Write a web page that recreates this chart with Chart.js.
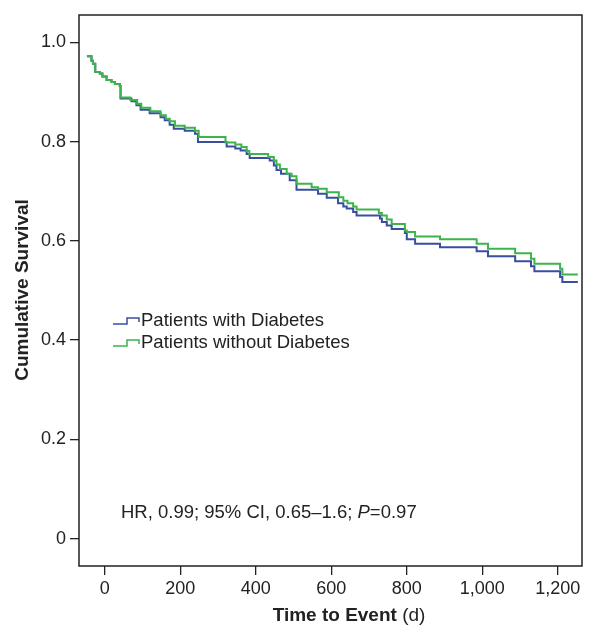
<!DOCTYPE html>
<html>
<head>
<meta charset="utf-8">
<script src="https://cdn.jsdelivr.net/npm/chart.js@4"></script>
<style>
  html, body { margin: 0; padding: 0; background: #fff; }
  #wrap { width: 596px; height: 627px; position: relative; }
</style>
</head>
<body>
<div id="wrap"><canvas id="kmChart"></canvas></div>
<script>
// Kaplan-Meier steps: day of each drop and survival after it
const diabetesDays = [-47, -35, -31, -25, -13, -6, 5, 18, 27, 40, 42, 71, 84, 95, 119, 148, 159, 172, 183, 212, 239, 247, 323, 346, 360, 376, 384, 437, 448, 455, 467, 490, 508, 565, 588, 618, 632, 641, 658, 667, 729, 734, 747, 760, 795, 800, 822, 888, 985, 1015, 1087, 1129, 1138, 1206, 1212, 1253];
const diabetesSurv = [0.972, 0.963, 0.957, 0.940, 0.937, 0.931, 0.924, 0.920, 0.916, 0.912, 0.887, 0.881, 0.873, 0.864, 0.857, 0.849, 0.843, 0.834, 0.826, 0.822, 0.816, 0.799, 0.790, 0.786, 0.782, 0.775, 0.767, 0.762, 0.752, 0.743, 0.735, 0.722, 0.703, 0.695, 0.687, 0.676, 0.669, 0.665, 0.658, 0.651, 0.645, 0.638, 0.631, 0.624, 0.616, 0.603, 0.594, 0.587, 0.579, 0.569, 0.559, 0.549, 0.539, 0.527, 0.517, 0.517];

const noDiabetesDays = [-47, -35, -31, -25, -13, -6, 5, 18, 27, 40, 42, 68, 86, 97, 121, 148, 162, 172, 186, 212, 239, 249, 320, 346, 362, 376, 383, 433, 448, 455, 464, 482, 495, 508, 548, 565, 588, 620, 632, 643, 658, 667, 726, 734, 747, 760, 795, 800, 822, 888, 985, 1015, 1087, 1129, 1138, 1206, 1212, 1253];
const noDiabetesSurv = [0.972, 0.963, 0.957, 0.940, 0.937, 0.931, 0.924, 0.920, 0.916, 0.912, 0.889, 0.884, 0.876, 0.868, 0.861, 0.853, 0.846, 0.841, 0.832, 0.828, 0.822, 0.809, 0.798, 0.794, 0.789, 0.781, 0.775, 0.769, 0.762, 0.754, 0.745, 0.735, 0.730, 0.715, 0.708, 0.705, 0.698, 0.688, 0.681, 0.676, 0.669, 0.663, 0.656, 0.651, 0.643, 0.634, 0.621, 0.618, 0.609, 0.603, 0.594, 0.584, 0.575, 0.564, 0.554, 0.544, 0.532, 0.532];

const xTicks = [0, 200, 400, 600, 800, 1000, 1200];
const yTicks = [0, 0.2, 0.4, 0.6, 0.8, 1.0];

const seriesNames = ["Patients with Diabetes", "Patients without Diabetes"];
const seriesColors = ["#3a4ea0", "#3cb44b"];

const FONT = "'Liberation Sans', Arial, sans-serif";
const INK = "#222";

const toPoints = (days, surv) => days.map((d, i) => ({ x: d, y: surv[i] }));

// frame, legend, annotation and axis titles
const decor = {
  id: "decor",
  afterDraw(chart) {
    const ctx = chart.ctx;
    const a = chart.chartArea;
    ctx.save();
    ctx.strokeStyle = INK;
    ctx.lineWidth = 1.5;
    ctx.strokeRect(a.left, a.top, a.right - a.left, a.bottom - a.top);

    // legend
    ctx.font = "18.5px " + FONT;
    ctx.textBaseline = "middle";
    ctx.textAlign = "left";
    const legY = [321, 343];
    seriesNames.forEach((name, i) => {
      const y = legY[i];
      ctx.strokeStyle = seriesColors[i];
      ctx.lineWidth = 1.5;
      ctx.beginPath();
      ctx.moveTo(113, y + 3);
      ctx.lineTo(127, y + 3);
      ctx.lineTo(127, y - 3);
      ctx.lineTo(139, y - 3);
      ctx.lineTo(139, y + 1);
      ctx.stroke();
      ctx.fillStyle = INK;
      ctx.fillText(name, 141, y);
    });

    // HR annotation with italic P
    let x = 121;
    const hrY = 513;
    const parts = [
      ["HR, 0.99; 95% CI, 0.65\u20131.6; ", "18.5px " + FONT],
      ["P", "italic 18.5px " + FONT],
      ["=0.97", "18.5px " + FONT]
    ];
    parts.forEach(([t, f]) => {
      ctx.font = f;
      ctx.fillText(t, x, hrY);
      x += ctx.measureText(t).width;
    });

    // x title
    const t1 = "Time to Event", t2 = " (d)";
    ctx.font = "bold 19px " + FONT;
    const w1 = ctx.measureText(t1).width;
    ctx.font = "19px " + FONT;
    const w2 = ctx.measureText(t2).width;
    const tx = 349 - (w1 + w2) / 2;
    ctx.font = "bold 19px " + FONT;
    ctx.fillText(t1, tx, 616);
    ctx.font = "19px " + FONT;
    ctx.fillText(t2, tx + w1, 616);

    // y title
    ctx.translate(23, 290);
    ctx.rotate(-Math.PI / 2);
    ctx.textAlign = "center";
    ctx.font = "bold 19px " + FONT;
    ctx.fillText("Cumulative Survival", 0, 0);
    ctx.restore();
  }
};

new Chart(document.getElementById("kmChart"), {
  type: "line",
  data: {
    datasets: [
      {
        label: seriesNames[0],
        data: toPoints(diabetesDays, diabetesSurv),
        borderColor: seriesColors[0],
        borderWidth: 2,
        stepped: true,
        pointRadius: 0,
        fill: false,
        order: 2
      },
      {
        label: seriesNames[1],
        data: toPoints(noDiabetesDays, noDiabetesSurv),
        borderColor: seriesColors[1],
        borderWidth: 2,
        stepped: true,
        pointRadius: 0,
        fill: false,
        order: 1
      }
    ]
  },
  options: {
    responsive: true,
    maintainAspectRatio: false,
    animation: false,
    layout: { padding: { top: 15, right: 14, left: 0, bottom: 0 } },
    plugins: {
      legend: { display: false },
      tooltip: { enabled: false }
    },
    scales: {
      x: {
        type: "linear",
        min: -68,
        max: 1264,
        afterBuildTicks: (scale) => { scale.ticks = xTicks.map(v => ({ value: v })); },
        afterFit: (scale) => { scale.height = 61; },
        border: { display: false },
        grid: { drawOnChartArea: false, drawTicks: true, tickLength: 9, color: INK, lineWidth: 1.3 },
        ticks: {
          padding: 3,
          color: INK,
          font: { family: FONT, size: 18 },
          maxRotation: 0,
          callback: (v) => v.toLocaleString("en-US")
        }
      },
      y: {
        min: -0.055,
        max: 1.055,
        afterBuildTicks: (scale) => { scale.ticks = yTicks.map(v => ({ value: v })); },
        afterFit: (scale) => { scale.width = 79; },
        border: { display: false },
        grid: { drawOnChartArea: false, drawTicks: true, tickLength: 9, color: INK, lineWidth: 1.3 },
        ticks: {
          padding: 4,
          color: INK,
          font: { family: FONT, size: 18 },
          callback: (v) => v === 0 ? "0" : v.toFixed(1)
        }
      }
    }
  },
  plugins: [decor]
});
</script>
</body>
</html>
